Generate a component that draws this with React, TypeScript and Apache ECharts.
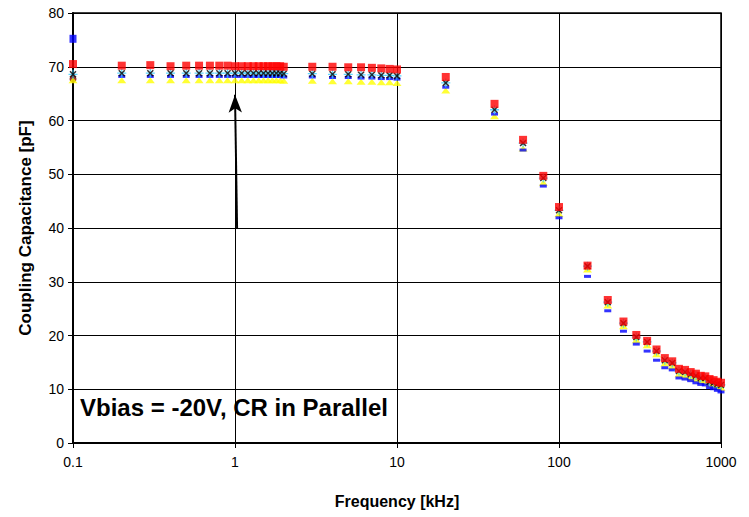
import React, { useEffect, useRef } from "react";
import * as echarts from "echarts";

const freqKHz = [
  0.1, 0.2, 0.3, 0.4, 0.5, 0.6, 0.7, 0.8, 0.9, 1.0,
  1.1, 1.2, 1.3, 1.4, 1.5, 1.6, 1.7, 1.8, 1.9, 2.0,
  3, 4, 5, 6, 7, 8, 9, 10,
  20, 40, 60, 80, 100,
  150, 200, 250, 300, 350, 400, 450, 500, 550, 600, 650, 700, 750, 800, 850, 900, 950, 1000,
];

const redSeries = [
  70.5, 70.2, 70.3, 70.1, 70.2, 70.2, 70.2, 70.2, 70.2, 70.1,
  70.1, 70.1, 70.1, 70.1, 70.1, 70.1, 70.1, 70.1, 70.1, 70.0,
  70.0, 70.0, 69.9, 69.9, 69.8, 69.7, 69.6, 69.5,
  68.1, 63.1, 56.4, 49.7, 43.9,
  33.0, 26.6, 22.6, 20.1, 19.0, 17.4, 15.8, 15.2, 13.8, 13.6, 13.2, 12.9, 12.5, 12.4, 11.9, 11.7, 11.4, 11.2,
];

const blackXSeries = [
  68.6, 68.8, 68.8, 68.8, 68.8, 68.8, 68.8, 68.8, 68.8, 68.8,
  68.8, 68.8, 68.8, 68.8, 68.8, 68.8, 68.8, 68.8, 68.8, 68.7,
  68.7, 68.6, 68.6, 68.5, 68.5, 68.4, 68.4, 68.3,
  67.0, 62.0, 55.8, 49.3, 43.3,
  32.9, 26.2, 22.3, 19.7, 18.8, 17.1, 15.4, 14.9, 13.4, 13.2, 12.8, 12.5, 12.1, 12.1, 11.4, 11.2, 11.0, 10.8,
];

const yellowSeries = [
  67.5, 67.5, 67.5, 67.5, 67.5, 67.5, 67.5, 67.5, 67.5, 67.5,
  67.5, 67.5, 67.5, 67.5, 67.5, 67.5, 67.5, 67.5, 67.5, 67.4,
  67.4, 67.3, 67.3, 67.2, 67.2, 67.1, 67.1, 67.0,
  65.6, 60.8, 54.8, 48.4, 42.6,
  32.3, 25.6, 21.7, 19.1, 18.2, 16.5, 14.8, 14.3, 12.8, 12.6, 12.2, 11.9, 11.5, 11.5, 10.9, 10.7, 10.5, 10.3,
];

const blueSeries = [
  75.2, 68.2, 68.2, 68.2, 68.2, 68.2, 68.2, 68.2, 68.2, 68.2,
  68.2, 68.2, 68.2, 68.2, 68.2, 68.2, 68.2, 68.2, 68.2, 68.1,
  68.1, 68.0, 68.0, 67.9, 67.9, 67.8, 67.8, 67.7,
  66.2, 61.2, 54.5, 47.8, 41.9,
  31.0, 24.6, 20.8, 18.4, 17.1, 15.4, 14.0, 13.6, 12.1, 11.9, 11.6, 11.2, 10.9, 10.8, 10.3, 10.1, 9.8, 9.5,
];

const brownFreq = [0.1];
const brownSeries = [67.7];

const yTicks = [0, 10, 20, 30, 40, 50, 60, 70, 80];
const xTickLabels = ["0.1", "1", "10", "100", "1000"];

const arrowFrom = [1.03, 40];
const arrowTo = [1.0, 64.8];

const xShape =
  "path://M0,1.5 L1.5,0 L5,3.5 L8.5,0 L10,1.5 L6.5,5 L10,8.5 L8.5,10 L5,6.5 L1.5,10 L0,8.5 L3.5,5 Z";
const starShape =
  "path://M4.3,0 L5.7,0 L5.7,4.3 L10,4.3 L10,5.7 L5.7,5.7 L5.7,10 L4.3,10 L4.3,5.7 L0,5.7 L0,4.3 L4.3,4.3 Z";

function pairs(xs: number[], ys: number[]) {
  return xs.map((x, i) => [x, ys[i]]);
}

export default function App() {
  const ref = useRef<HTMLDivElement>(null);
  useEffect(() => {
    if (!ref.current) return;
    const chart = echarts.init(ref.current, null, { renderer: "svg" });
    const font = "Liberation Sans, Arial, sans-serif";
    chart.setOption({
      animation: false,
      backgroundColor: "#ffffff",
      grid: {
        left: 73,
        top: 13,
        right: 28,
        bottom: 74,
        show: true,
        borderColor: "#000",
        borderWidth: 1.5,
      },
      xAxis: {
        type: "log",
        logBase: 10,
        min: 0.1,
        max: 1000,
        name: "Frequency [kHz]",
        nameLocation: "middle",
        nameGap: 50,
        nameTextStyle: { fontFamily: font, fontWeight: "bold", fontSize: 16, color: "#000" },
        axisLine: { show: true, lineStyle: { color: "#000", width: 2 } },
        axisTick: { show: true, inside: false, length: 5, lineStyle: { color: "#000", width: 1 } },
        minorTick: { show: false },
        axisLabel: {
          fontFamily: font,
          fontSize: 14,
          color: "#000",
          margin: 12,
          formatter: (v: number) => {
            const idx = Math.round(Math.log10(v)) + 1;
            return xTickLabels[idx] ?? String(v);
          },
        },
        splitLine: { show: true, lineStyle: { color: "#000", width: 1 } },
      },
      yAxis: {
        type: "value",
        min: yTicks[0],
        max: yTicks[yTicks.length - 1],
        interval: 10,
        name: "Coupling Capacitance [pF]",
        nameLocation: "middle",
        nameGap: 39,
        nameTextStyle: { fontFamily: font, fontWeight: "bold", fontSize: 17, color: "#000" },
        axisLine: { show: true, lineStyle: { color: "#000", width: 2 } },
        axisTick: { show: true, inside: false, length: 5, lineStyle: { color: "#000", width: 1 } },
        axisLabel: { fontFamily: font, fontSize: 14, color: "#000", margin: 9 },
        splitLine: { show: true, lineStyle: { color: "#000", width: 1 } },
      },
      series: [
        {
          name: "S6",
          type: "scatter",
          data: pairs(brownFreq, brownSeries),
          symbol: "circle",
          symbolSize: 7,
          itemStyle: { color: "#800000" },
        },
        {
          name: "S3",
          type: "scatter",
          data: pairs(freqKHz, yellowSeries),
          symbol: "triangle",
          symbolSize: [9, 6],
          itemStyle: { color: "#FFFF00" },
        },
        {
          name: "S4",
          type: "scatter",
          data: pairs(freqKHz, blueSeries).map((p, i) => ({
            value: p,
            symbolSize: i === 0 ? [7, 8] : [7, 3],
          })),
          symbol: "rect",
          itemStyle: { color: "#0000FF" },
        },
        {
          name: "S5",
          type: "scatter",
          data: pairs(freqKHz, blackXSeries),
          symbol: starShape,
          symbolSize: 9,
          itemStyle: { color: "#33CCFF" },
        },
        {
          name: "S2",
          type: "scatter",
          data: pairs(freqKHz, blackXSeries),
          symbol: xShape,
          symbolSize: 7,
          itemStyle: { color: "#000000" },
        },
        {
          name: "S1",
          type: "scatter",
          data: pairs(freqKHz, redSeries),
          symbol: "rect",
          symbolSize: 8,
          itemStyle: { color: "#FF0000" },
          markLine: {
            silent: true,
            symbol: ["none", "arrow"],
            symbolSize: [10, 18],
            label: { show: false },
            lineStyle: { color: "#000", width: 2, type: "solid" },
            data: [[{ coord: arrowFrom }, { coord: arrowTo }]],
          },
        },
      ],
      graphic: [
        {
          type: "text",
          left: 80,
          top: 395,
          style: {
            text: "Vbias = -20V, CR in Parallel",
            fontFamily: font,
            fontWeight: "bold",
            fontSize: 24,
            fill: "#000",
          },
        },
      ],
    });
    return () => chart.dispose();
  }, []);
  return <div ref={ref} style={{ width: 749, height: 517, position: "absolute", left: 0, top: 0 }} />;
}
